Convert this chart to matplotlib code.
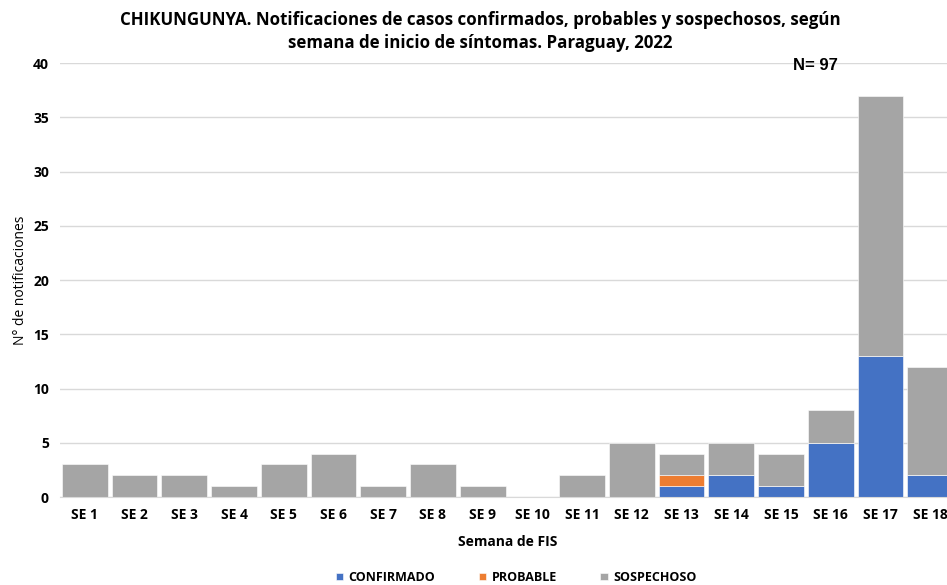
import numpy as np
import matplotlib.pyplot as plt

semanas = ['SE 1', 'SE 2', 'SE 3', 'SE 4', 'SE 5', 'SE 6', 'SE 7', 'SE 8', 'SE 9',
           'SE 10', 'SE 11', 'SE 12', 'SE 13', 'SE 14', 'SE 15', 'SE 16', 'SE 17', 'SE 18']
confirmado = [0, 0, 0, 0, 0, 0, 0, 0, 0, 0, 0, 0, 1, 2, 1, 5, 13, 2]
probable   = [0, 0, 0, 0, 0, 0, 0, 0, 0, 0, 0, 0, 1, 0, 0, 0, 0, 0]
sospechoso = [3, 2, 2, 1, 3, 4, 1, 3, 1, 0, 2, 5, 2, 3, 3, 3, 24, 10]

c_conf = '#4472C4'
c_prob = '#ED7D31'
c_sosp = '#A5A5A5'

fig = plt.figure(figsize=(9.47, 5.85), dpi=100)
ax = fig.add_axes([0.0634, 0.1504, 0.945, 0.7419])

x = np.arange(len(semanas))
conf = np.array(confirmado)
prob = np.array(probable)
sosp = np.array(sospechoso)
w = 0.92
ax.bar(x, conf, w, color=c_conf, edgecolor='white', linewidth=0.4, label='CONFIRMADO')
ax.bar(x, prob, w, bottom=conf, color=c_prob, edgecolor='white', linewidth=0.4, label='PROBABLE')
ax.bar(x, sosp, w, bottom=conf + prob, color=c_sosp, edgecolor='white', linewidth=0.4, label='SOSPECHOSO')

ax.set_xlim(-0.5, len(semanas) - 0.5)
ax.set_ylim(0, 40)
ax.set_yticks(range(0, 41, 5))
ax.set_xticks(x)
ax.set_xticklabels(semanas)
ax.grid(axis='y', color='#d9d9d9', linewidth=1)
ax.set_axisbelow(True)
for s in ['top', 'right', 'left']:
    ax.spines[s].set_visible(False)
ax.spines['bottom'].set_color('#d9d9d9')
ax.tick_params(length=0, labelsize=10, pad=8)
for lab in ax.get_xticklabels() + ax.get_yticklabels():
    lab.set_fontfamily('Open Sans')
    lab.set_fontweight('bold')

ax.set_ylabel('N° de notificaciones', fontsize=10, family='Open Sans')
ax.yaxis.set_label_coords(-0.036, 0.5)
ax.set_xlabel('Semana de FIS', fontsize=10, family='Open Sans', fontweight='bold', labelpad=9)

fig.text(0.507, 0.946, 'CHIKUNGUNYA. Notificaciones de casos confirmados, probables y sospechosos, según\nsemana de inicio de síntomas. Paraguay, 2022',
         ha='center', va='center', fontsize=12.2, fontweight='bold', family='Open Sans', linespacing=1.3)
fig.text(0.861, 0.888, 'N= 97', ha='center', va='center', fontsize=12, fontweight='bold', family='Liberation Sans')

fig.legend(loc='center', bbox_to_anchor=(0.545, 0.013), ncol=3, frameon=False,
           handlelength=0.6, handleheight=0.6, handletextpad=0.4, columnspacing=3.5,
           prop={'family': 'Open Sans', 'weight': 'bold', 'size': 9})

fig.savefig('out.png', dpi=100)
